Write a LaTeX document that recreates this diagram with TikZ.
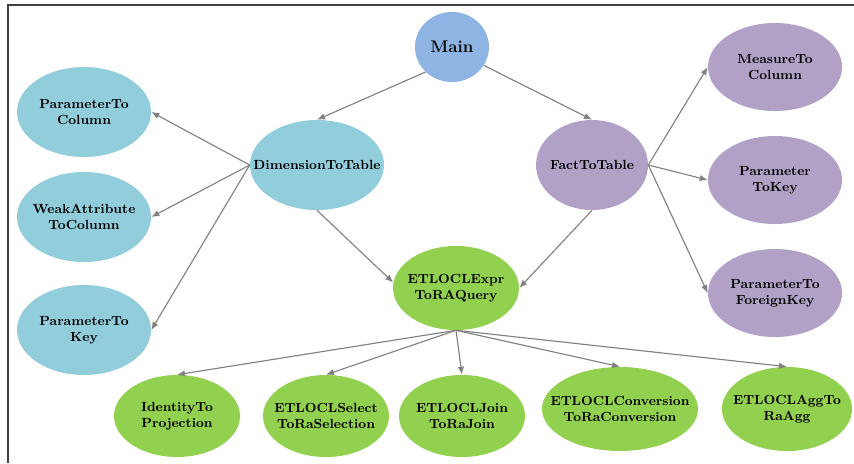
\documentclass[tikz,border=0pt]{standalone}
\usepackage[svgnames, dvipsnames]{xcolor}
\usetikzlibrary{shapes.geometric, arrows.meta}
\tikzset{>={Latex[length=2mm, width=1.6mm]}}
\definecolor{mainblue}{RGB}{141,180,226}
\definecolor{dimblue}{RGB}{146,205,220}
\definecolor{factlilac}{RGB}{178,161,199}
\definecolor{exprgreen}{RGB}{146,208,80}
\tikzset{
  blobtext/.style={align=center, font=\fontsize{9.4}{11.6}\selectfont\bfseries, inner sep=0pt},
  blob/.style={ellipse, inner sep=0pt, minimum width=3.35cm, minimum height=2.25cm,
    label={[blobtext]center:#1}},
  link/.style={draw=gray, thick, ->}
}

\begin{document}
\begin{tikzpicture}[x=0.025cm, y=-0.025cm]
\useasboundingbox (0,0) rectangle (854,463);
\draw[line width=0.9pt, black!75] (8,463) -- (8,5) -- (854,5);

\node[blob={}, fill=mainblue, minimum width=1.85cm, minimum height=1.75cm] (main) at (452,47) {};
\node[font=\large\bfseries, inner sep=0pt] (maintxt) at (main) {Main};

% dimension side
\node[blob={DimensionToTable}, fill=dimblue] (dimtab) at (317,165) {};
\node[blob={ParameterTo\\Column}, fill=dimblue] (paramcol) at (84,112) {};
\node[blob={WeakAttribute\\ToColumn}, fill=dimblue] (weakcol) at (84,217) {};
\node[blob={ParameterTo\\Key}, fill=dimblue] (paramkey) at (84,330) {};

% fact side
\node[blob={FactToTable}, fill=factlilac, minimum width=2.8cm] (facttab) at (592,165) {};
\node[blob={MeasureTo\\Column}, fill=factlilac, minimum height=2.2cm] (measurecol) at (775,67) {};
\node[blob={Parameter\\ToKey}, fill=factlilac, minimum height=2.2cm] (paramtokey) at (775,180) {};
\node[blob={ParameterTo\\ForeignKey}, fill=factlilac, minimum height=2.2cm] (paramfk) at (775,293) {};

% query side
\node[blob={ETLOCLExpr\\ToRAQuery}, fill=exprgreen, minimum width=3.15cm, minimum height=2.1cm] (exprquery) at (456,288) {};
\node[blob={IdentityTo\\Projection}, fill=exprgreen, minimum width=3.15cm, minimum height=2.05cm] (idproj) at (177,416) {};
\node[blob={ETLOCLSelect\\ToRaSelection}, fill=exprgreen, minimum width=3.15cm, minimum height=2.05cm] (selsel) at (326,416) {};
\node[blob={ETLOCLJoin\\ToRaJoin}, fill=exprgreen, minimum width=3.15cm, minimum height=2.05cm] (joinjoin) at (462,416) {};
\node[blob={ETLOCLConversion\\ToRaConversion}, fill=exprgreen, minimum width=3.9cm, minimum height=2.1cm] (convconv) at (620,409) {};
\node[blob={ETLOCLAggTo\\RaAgg}, fill=exprgreen, minimum width=3.25cm, minimum height=2.1cm] (aggagg) at (787,409) {};

\draw[link] (main.south west) -- (dimtab.north);
\draw[link] (main.-30) -- (facttab.north);
\draw[link] (dimtab.west) -- (paramcol.east);
\draw[link] (dimtab.west) -- (weakcol.east);
\draw[link] (dimtab.west) -- (paramkey.east);
\draw[link] (dimtab.south) -- (exprquery.175);
\draw[link] (facttab.east) -- (measurecol.west);
\draw[link] (facttab.east) -- (paramtokey.west);
\draw[link] (facttab.east) -- (paramfk.west);
\draw[link] (facttab.south) -- (exprquery.east);
\foreach \kid in {idproj, selsel, joinjoin, convconv, aggagg}
  \draw[link] (exprquery.south) -- (\kid.north);
\end{tikzpicture}
\end{document}
